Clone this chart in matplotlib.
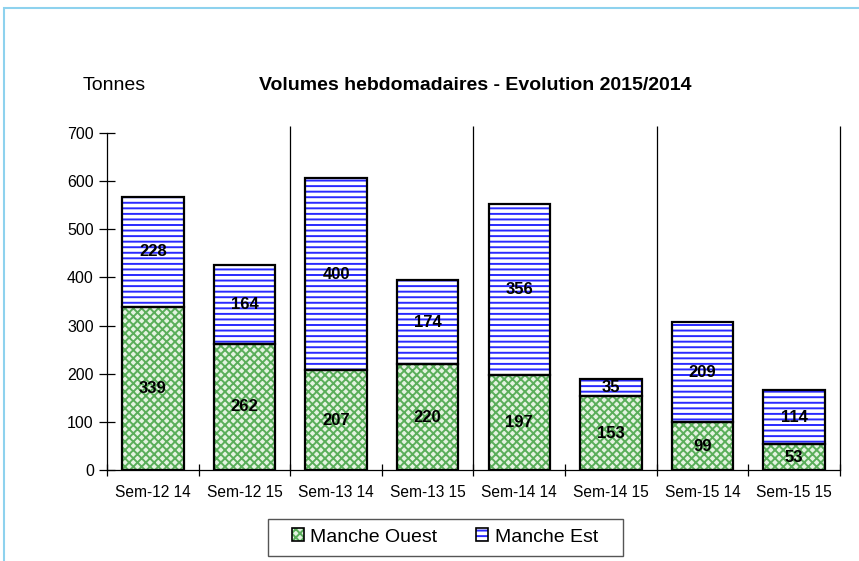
import matplotlib as mpl
import matplotlib.pyplot as plt
import numpy as np
from matplotlib.patches import Patch, Rectangle
from matplotlib.legend_handler import HandlerTuple

mpl.rcParams.update({
    'font.family': ['Liberation Sans', 'DejaVu Sans'],
    'hatch.linewidth': 1.4,
})

weeks = ['Sem-12 14', 'Sem-12 15', 'Sem-13 14', 'Sem-13 15',
         'Sem-14 14', 'Sem-14 15', 'Sem-15 14', 'Sem-15 15']
ouest = [339, 262, 207, 220, 197, 153, 99, 53]
est = [228, 164, 400, 174, 356, 35, 209, 114]

GREEN = '#5aae5a'
GREEN_BG = '#e4f3e1'
BLUE = '#2a2aff'

fig = plt.figure(figsize=(8.59, 5.61), dpi=100)
ax = fig.add_axes([107 / 859, 91 / 561, 733 / 859, 337 / 561])

x = np.arange(len(weeks))
w = 0.67
ouest = np.array(ouest)
est = np.array(est)

# hatched fills first, black outlines on top
ax.bar(x, ouest, w, color=GREEN_BG, edgecolor=GREEN, hatch='xxxx', linewidth=0)
ax.bar(x, est, w, bottom=ouest, color='white', edgecolor=BLUE, hatch='---', linewidth=0)
ax.bar(x, ouest, w, color='none', edgecolor='black', linewidth=1.6)
ax.bar(x, est, w, bottom=ouest, color='none', edgecolor='black', linewidth=1.6)

for i in range(len(weeks)):
    ax.text(x[i], ouest[i] / 2, str(ouest[i]), ha='center', va='center',
            fontsize=12, fontweight='bold')
    ax.text(x[i], ouest[i] + est[i] / 2, str(est[i]), ha='center', va='center',
            fontsize=12, fontweight='bold')

# separators between the weeks
ax.vlines([1.5, 3.5, 5.5, 7.5], 0, 715, colors='black', linewidth=0.9, clip_on=False)

ax.set_xlim(-0.5, 7.5)
ax.set_ylim(0, 700)
ax.set_yticks(np.arange(0, 701, 100))
ax.set_xticks(x)
ax.set_xticklabels(weeks)
ax.set_xticks(np.arange(-0.5, 8, 1), minor=True)
ax.tick_params(axis='x', which='major', length=0, pad=11, labelsize=11.2)
ax.tick_params(axis='x', which='minor', direction='inout', length=9, width=0.9)
ax.tick_params(axis='y', direction='inout', length=11, width=0.9, pad=4, labelsize=11.5)
for s in ['top', 'right']:
    ax.spines[s].set_visible(False)
ax.spines['left'].set_linewidth(0.9)
ax.spines['bottom'].set_linewidth(0.9)

fig.text(83 / 859, 1 - 85 / 561, 'Tonnes', fontsize=14, ha='left', va='center')
fig.text(475 / 859, 1 - 85 / 561, 'Volumes hebdomadaires - Evolution 2015/2014',
         fontsize=14, fontweight='bold', ha='center', va='center')

# legend
h1 = (Patch(facecolor=GREEN_BG, edgecolor=GREEN, hatch='xxxx', linewidth=0),
      Patch(facecolor='none', edgecolor='black', linewidth=1.2))
h2 = (Patch(facecolor='white', edgecolor=BLUE, hatch='---', linewidth=0),
      Patch(facecolor='none', edgecolor='black', linewidth=1.2))
fig.legend([h1, h2], ['Manche Ouest', 'Manche Est'],
           handler_map={tuple: HandlerTuple(ndivide=1)},
           loc='center', bbox_to_anchor=(445 / 859, 1 - 537 / 561), ncol=2,
           frameon=False, fontsize=14, handlelength=0.62, handleheight=0.62,
           handletextpad=0.35, columnspacing=2.0)
fig.patches.append(Rectangle((268 / 859, 1 - 556 / 561), 355 / 859, 37 / 561,
                             transform=fig.transFigure, facecolor='none',
                             edgecolor='#555555', linewidth=1.0))

# outer chart frame
fig.patches.append(Rectangle((4 / 859, -0.1), 1.1, 1 - 8 / 561 + 0.1,
                             transform=fig.transFigure, facecolor='none',
                             edgecolor='#8ed2ee', linewidth=1.5))

fig.savefig('out.png', dpi=100)
